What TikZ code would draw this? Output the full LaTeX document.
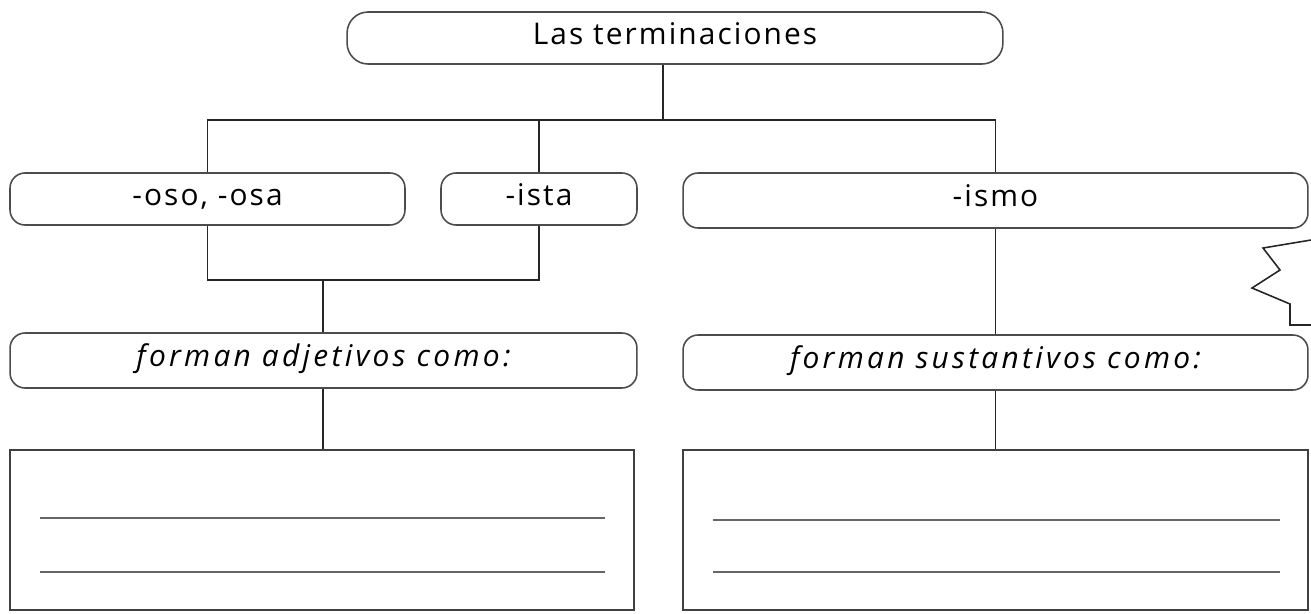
\documentclass[tikz,border=0pt]{standalone}
\usepackage{fontspec}
\setmainfont{Open Sans}[LetterSpace=7, ItalicFeatures={LetterSpace=11}]
\usepackage{tikz}
\usetikzlibrary{calc}

\tikzset{
  endbox/.style={draw=black!70, line width=0.9pt, rounded corners=0.3cm, inner sep=0pt,
    text height=11pt, text depth=4pt, font=\fontsize{17}{20}\selectfont},
  answerbox/.style={draw=black!75, line width=0.9pt, inner sep=0pt},
  link/.style={draw=black!85, line width=0.8pt},
  rule/.style={draw=black!60, line width=1.2pt}
}

\begin{document}
\begin{tikzpicture}[x=0.02cm, y=-0.02cm]
  % Fix the page to the size of the sheet
  \useasboundingbox (0,0) rectangle (1311,613);

  % The title box
  \node[endbox, rounded corners=0.42cm, minimum width=13.12cm, minimum height=1.04cm] (top) at (675,38) {Las terminaciones};

  % The three endings
  \node[endbox, minimum width=7.9cm, minimum height=1.04cm] (oso) at (207.5,199) {-oso, -osa};
  \node[endbox, minimum width=3.92cm, minimum height=1.04cm] (ista) at (539,199) {-ista};
  \node[endbox, minimum width=12.5cm, minimum height=1.1cm] (ismo) at (995.5,200.5) {-ismo};

  % What they form
  \node[endbox, minimum width=12.54cm, minimum height=1.1cm] (adj) at (323.5,360.5) {\itshape forman adjetivos como:};
  \node[endbox, minimum width=12.5cm, minimum height=1.1cm] (sust) at (995.5,362.5) {\itshape forman sustantivos como:};

  % Boxes to write the answers in
  \node[answerbox, minimum width=12.48cm, minimum height=3.2cm] (ansL) at (322,530) {};
  \node[answerbox, minimum width=12.5cm, minimum height=3.2cm] (ansR) at (995.5,530) {};

  % Branches from the title
  \coordinate (hub) at (663,120);
  \draw[link] (top.south -| hub) -- (hub);
  \draw[link] (oso.north) |- (hub) -| (ismo.north);
  \draw[link] (ista.north) -- (ista.north |- hub);

  % Join of -oso and -ista
  \coordinate (join) at (323,280);
  \draw[link] (oso.south) |- (join) -| (ista.south);
  \draw[link] (join) -- (join |- adj.north);
  \draw[link] (adj.south -| join) -- (join |- ansL.north);

  % Right branch
  \draw[link] (ismo.south) -- (sust.north);
  \draw[link] (sust.south) -- (ansR.north);

  % Writing lines
  \foreach \ly in {518,572} {
    \draw[rule] (40,\ly) -- (605,\ly);
  }
  \foreach \ly in {520,572} {
    \draw[rule] (713,\ly) -- (1280,\ly);
  }

  % Edge of a speech bubble cut off by the page
  \draw[black!85, line width=0.9pt] (1311,240) -- (1263,248) -- (1280,270) -- (1252,288)
    -- (1290,304) -- (1290,325) -- (1311,325);
\end{tikzpicture}
\end{document}
